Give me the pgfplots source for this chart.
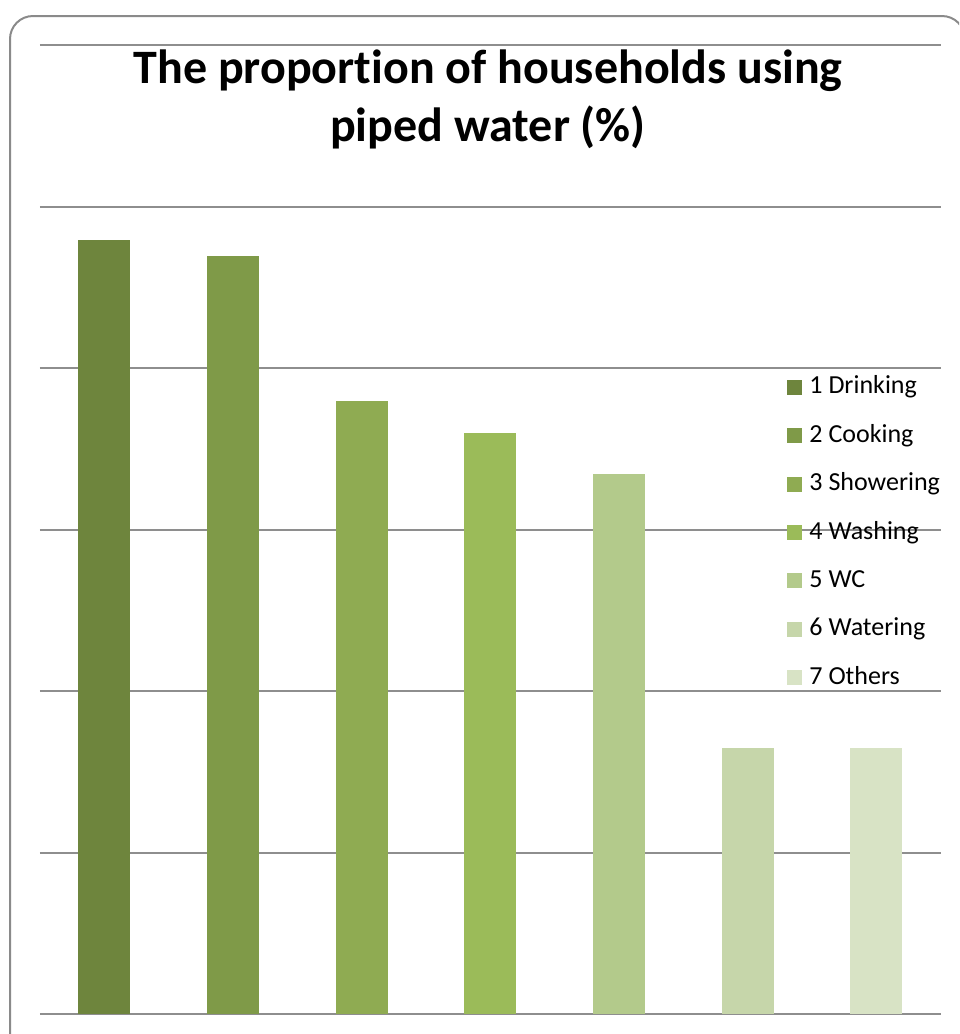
\documentclass[border=0pt]{standalone}
\usepackage{fontspec}
\setmainfont{Carlito}[Ligatures={NoCommon}]
\usepackage{pgfplots}
\pgfplotsset{compat=1.18}
\definecolor{c1}{HTML}{6E853D}
\definecolor{c2}{HTML}{7F9A48}
\definecolor{c3}{HTML}{8FAB52}
\definecolor{c4}{HTML}{9BBB59}
\definecolor{c5}{HTML}{B3CA8B}
\definecolor{c6}{HTML}{C6D6AA}
\definecolor{c7}{HTML}{D8E3C5}
\definecolor{framegray}{HTML}{8A8A8A}
\definecolor{gridgray}{HTML}{8E8E8E}
\begin{document}
\begin{tikzpicture}
\useasboundingbox (0pt,0pt) rectangle (479.5pt,-517pt);
\begin{scope}
\clip (0pt,0pt) rectangle (479.5pt,-517pt);
\draw[color=framegray, line width=1pt, rounded corners=11.5pt] (5pt,-8pt) rectangle (482.5pt,-540pt);
\end{scope}
\begin{axis}[
  at={(20pt,-507pt)}, anchor=south west,
  scale only axis, width=450.3pt, height=484.5pt,
  xmin=-0.5, xmax=6.5, ymin=0, ymax=120,
  ytick={0,20,...,120}, yticklabels={}, xtick=\empty,
  ymajorgrids, major grid style={color=gridgray, line width=1pt},
  axis line style={draw=none}, major tick length=0pt,
  ybar, bar width=26pt,
  clip=false,
  legend image code/.code={\fill[#1] (0pt,-3.75pt) rectangle (7.5pt,3.75pt);},
  legend cell align=left,
  legend style={draw=none, fill=none, inner sep=0pt, column sep=3.5pt, row sep=11.9pt,
    at={(0.8295,0.4970)}, anchor=west,
    font=\fontsize{13}{15.6}\selectfont,
    nodes={inner sep=0pt, text height=9.5pt, text depth=2.8pt}},
]
\addplot[fill=c1, draw=none, bar shift=0pt] coordinates {(0,95.9)};
\addlegendentry{1 Drinking}
\addplot[fill=c2, draw=none, bar shift=0pt] coordinates {(1,93.9)};
\addlegendentry{2 Cooking}
\addplot[fill=c3, draw=none, bar shift=0pt] coordinates {(2,75.9)};
\addlegendentry{3 Showering}
\addplot[fill=c4, draw=none, bar shift=0pt] coordinates {(3,72.0)};
\addlegendentry{4 Washing}
\addplot[fill=c5, draw=none, bar shift=0pt] coordinates {(4,66.9)};
\addlegendentry{5 WC}
\addplot[fill=c6, draw=none, bar shift=0pt] coordinates {(5,32.9)};
\addlegendentry{6 Watering}
\addplot[fill=c7, draw=none, bar shift=0pt] coordinates {(6,32.9)};
\addlegendentry{7 Others}
\end{axis}
\node[anchor=base, inner sep=0pt, font=\bfseries\fontsize{24}{29}\selectfont] at (244pt,-41.5pt) {The proportion of households using};
\node[anchor=base, inner sep=0pt, font=\bfseries\fontsize{24}{29}\selectfont] at (244pt,-70.5pt) {piped water (\%)};
\end{tikzpicture}
\end{document}
